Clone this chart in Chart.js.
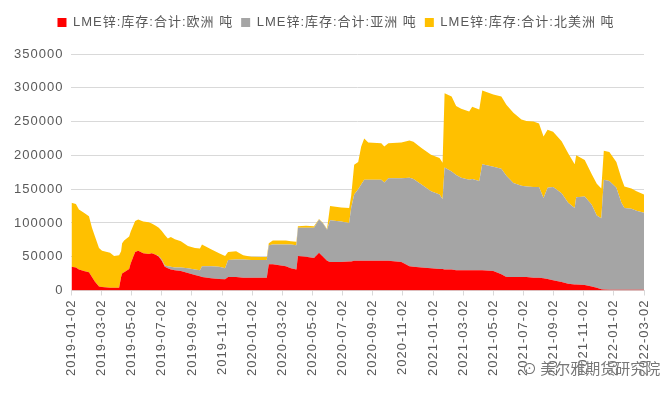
<!DOCTYPE html>
<html>
<head>
<meta charset="utf-8">
<script src="https://cdn.jsdelivr.net/npm/chart.js@4"></script>
<style>
  body { margin: 0; background: #fff; }
  #wrap { position: relative; width: 668px; height: 398px; }
  #mark { position: absolute; left: 522px; top: 357px; font: 15px 'Noto Sans CJK SC', sans-serif;
          color: #777; text-shadow: 0 0 2px #fff; }
</style>
</head>
<body>
<div id="wrap">
  <canvas id="chart" width="668" height="398"></canvas>
  <div id="mark">⊙ 美尔雅期货研究院</div>
</div>
<script>
// dates of the samples
let dates = [
    '2019-01-02','2019-01-11','2019-01-17','2019-01-27','2019-02-07','2019-02-13','2019-02-19','2019-02-27',
    '2019-03-03','2019-03-19','2019-03-27','2019-04-07','2019-04-11','2019-04-13','2019-04-17','2019-04-27',
    '2019-04-30','2019-05-09','2019-05-15','2019-05-25','2019-06-06','2019-06-12','2019-06-20','2019-06-26',
    '2019-07-02','2019-07-08','2019-07-14','2019-07-20','2019-07-28','2019-08-10','2019-08-24','2019-09-08',
    '2019-09-18','2019-09-22','2019-10-10','2019-10-26','2019-11-08','2019-11-14','2019-11-30','2019-12-14',
    '2019-12-30','2020-01-20','2020-01-31','2020-02-05','2020-02-13','2020-03-09','2020-03-19','2020-03-30',
    '2020-04-03','2020-04-19','2020-05-05','2020-05-15','2020-05-23','2020-05-31','2020-06-07','2020-06-29',
    '2020-07-15','2020-07-19','2020-07-25','2020-08-03','2020-08-09','2020-08-15','2020-08-23','2020-09-19',
    '2020-09-25','2020-10-03','2020-10-29','2020-11-15','2020-11-23','2020-12-09','2020-12-28','2021-01-15',
    '2021-01-21','2021-01-25','2021-02-09','2021-02-18','2021-02-28','2021-03-14','2021-03-20','2021-04-04',
    '2021-04-10','2021-05-02','2021-05-18','2021-05-28','2021-06-12','2021-06-28','2021-07-08','2021-07-22',
    '2021-08-03','2021-08-12','2021-08-20','2021-09-01','2021-09-18','2021-10-01','2021-10-14','2021-10-17',
    '2021-11-04','2021-11-18','2021-11-28','2021-12-07','2021-12-12','2021-12-23','2022-01-07','2022-01-17',
    '2022-01-23','2022-02-07','2022-02-17','2022-03-02'
];

// LME zinc stocks, tonnes
let europe = [
    35000,34000,31000,29000,27000,20000,13000,6000, 5000,4000,4000,4000,20000,25000,27000,32000,
    40000,57000,59000,55000,54000,55000,53000,50000, 44000,35000,33000,31000,30000,29000,26000,23000,
    21000,20000,18000,17000,16500,20000,20000,19000, 19000,19000,19000,39000,39000,36000,33000,31000,
    51000,50000,48000,56000,50000,44000,42000,42000, 43000,43000,44000,44000,44000,44000,44000,44000,
    44000,44000,42000,36000,35000,34000,33000,32000, 32000,31000,31000,30000,30000,30000,30000,30000,
    30000,29000,24000,20000,20000,20000,20000,19000, 19000,18000,17000,15000,12500,10000,9000,9000,
    8000,6000,4000,2000,1500,1000,1000,1000, 1000,1000,1000,1000
];
let asia = [
    0,0,0,0,0,0,0,0, 0,0,0,0,0,0,0,0,
    0,0,0,0,0,0,0,1000, 2000,2000,3000,4000,4000,5000,7000,8000,
    9000,16000,18000,18000,16500,25000,26000,27000, 26000,26000,26000,28000,29000,32000,35000,36000,
    42000,43000,45000,49000,49000,46000,62000,60000, 57000,79000,98000,106000,113000,120000,120000,120000,
    116000,122000,124000,131000,130000,123000,114000,110000, 103000,151000,145000,141000,137000,134000,135000,132000,
    157000,154000,156000,150000,139000,135000,134000,134000, 134000,119000,135000,138000,131500,120000,113000,129000,
    131000,121000,107000,105000,162500,161000,151000,129000, 121000,120000,117000,114000
];
let northAmerica = [
    95000,94000,89000,86000,83000,73000,67000,57000, 54000,52000,47000,48000,38000,45000,47000,48000,
    47000,46000,46000,47000,47000,44000,43000,42000, 42000,45000,41000,44000,42000,39000,33000,32000,
    32000,32000,25000,20000,18000,12000,12000,6000, 5000,4500,4500,3000,6000,6000,5000,5000,
    2000,3000,2000,1000,1000,1000,21000,21000, 22000,18000,44000,40000,56000,61000,55000,54000,
    53000,52000,53000,55000,55000,54000,54000,54000, 54000,110000,111000,102000,102000,101000,107000,106000,
    109000,107000,107000,105000,104000,98000,97000,97000, 94000,91000,86000,82000,77000,73000,65000,62000,
    54000,45000,47000,44000,43000,43000,38000,36000, 32000,30000,29000,27000
];

let seriesNames = ['LME锌:库存:合计:欧洲 吨', 'LME锌:库存:合计:亚洲 吨', 'LME锌:库存:合计:北美洲 吨'];

// months since 2019-01-02, used as the x position
function monthPos(d) {
    let p = d.split('-').map(Number);
    return (p[0] - 2019) * 12 + (p[1] - 1) + (p[2] - 2) / 30;
}
function monthLabel(v) {
    let y = 2019 + Math.floor(v / 12);
    let m = v % 12 + 1;
    return y + '-' + (m < 10 ? '0' : '') + m + '-02';
}
function points(vals) {
    return vals.map((v, i) => ({ x: monthPos(dates[i]), y: v }));
}

let font = "'Liberation Sans', 'Noto Sans CJK SC', sans-serif";
Chart.defaults.font.family = font;
Chart.defaults.font.size = 13;
Chart.defaults.color = '#595959';

// spaced out text like the office chart
let spacing = {
    id: 'spacing',
    beforeLayout(chart) { chart.ctx.letterSpacing = '1px'; },
    beforeDraw(chart) { chart.ctx.letterSpacing = '1px'; }
};

// extra room between legend and plot, legend sits a bit right of centre
let legendGap = {
    id: 'legendGap',
    beforeInit(chart) {
        let fit = chart.legend.fit;
        chart.legend.fit = function () {
            fit.bind(chart.legend)();
            this.height += 15;
        };
    },
    afterLayout(chart) {
        chart.legend.left += 11;
        chart.legend.right += 11;
    }
};

let ctx = document.getElementById('chart').getContext('2d');
new Chart(ctx, {
    type: 'line',
    data: {
        datasets: [{
            label: seriesNames[0],
            data: points(europe),
            backgroundColor: '#FF0000',
            borderColor: '#FF0000',
            fill: 'origin'
        }, {
            label: seriesNames[1],
            data: points(asia),
            backgroundColor: '#A5A5A5',
            borderColor: '#A5A5A5',
            fill: '-1'
        }, {
            label: seriesNames[2],
            data: points(northAmerica),
            backgroundColor: '#FFC000',
            borderColor: '#FFC000',
            fill: '-1'
        }]
    },
    options: {
        responsive: false,
        animation: false,
        elements: {
            point: { radius: 0 },
            line: { borderWidth: 0, tension: 0 }
        },
        layout: { padding: { left: 6, right: 24, top: 8, bottom: 18 } },
        plugins: {
            legend: {
                position: 'top',
                labels: { boxWidth: 9, boxHeight: 9, padding: 8, font: { size: 13 } }
            },
            tooltip: { enabled: false }
        },
        scales: {
            x: {
                type: 'linear',
                min: 0,
                max: 38,
                ticks: {
                    stepSize: 2,
                    autoSkip: false,
                    minRotation: 90,
                    maxRotation: 90,
                    padding: 4,
                    callback: v => monthLabel(v)
                },
                grid: { drawOnChartArea: false, tickLength: 5, color: '#D9D9D9' },
                border: { color: '#D9D9D9' }
            },
            y: {
                stacked: true,
                min: 0,
                max: 350000,
                ticks: { stepSize: 50000, padding: 8, callback: v => String(v) },
                grid: { color: '#D9D9D9', drawTicks: false },
                border: { display: false }
            }
        }
    },
    plugins: [spacing, legendGap]
});
</script>
</body>
</html>
